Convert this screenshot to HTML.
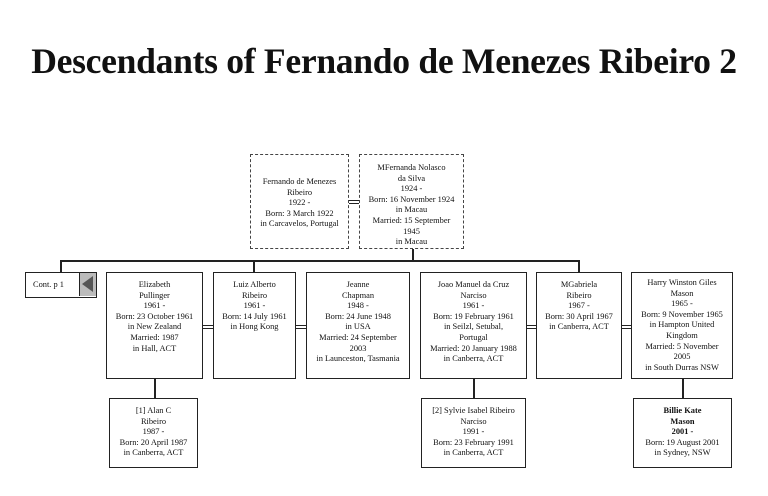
<!DOCTYPE html>
<html><head><style>
body{margin:0;width:768px;height:496px;background:#fff;position:relative;overflow:hidden;font-family:"Liberation Serif",serif;}
.t{position:absolute;left:0;width:768px;top:40px;text-align:center;font-weight:bold;font-size:35.6px;color:#111;letter-spacing:-0.3px}
.b{position:absolute;border:1.5px solid #222;box-sizing:border-box;font-size:8.4px;line-height:10.6px;text-align:center;padding-top:7px;color:#111;background:#fff;white-space:nowrap}
.d{border:1.3px dashed #444}
.l{position:absolute;background:#222}
.eq{position:absolute;height:4px;border-top:1px solid #222;border-bottom:1px solid #222;box-sizing:border-box}
</style></head><body>
<div class="t">Descendants of Fernando de Menezes Ribeiro 2</div>

<div class="b d" style="left:250px;top:154px;width:99px;height:95px;padding-top:22px">Fernando de Menezes<br>Ribeiro<br>1922 -<br>Born: 3 March 1922<br>in Carcavelos, Portugal</div>
<div class="b d" style="left:359px;top:154px;width:105px;height:95px;padding-top:8px">MFernanda Nolasco<br>da Silva<br>1924 -<br>Born: 16 November 1924<br>in Macau<br>Married: 15 September<br>1945<br>in Macau</div>
<div class="eq" style="left:349px;top:200px;width:10px"></div>

<div class="l" style="left:412px;top:249px;width:1.5px;height:12px"></div>
<div class="l" style="left:60px;top:260px;width:520px;height:1.5px"></div>
<div class="l" style="left:60px;top:260px;width:1.5px;height:12px"></div>
<div class="l" style="left:253px;top:260px;width:1.5px;height:12px"></div>
<div class="l" style="left:578px;top:260px;width:1.5px;height:12px"></div>

<div class="b" style="left:25px;top:272px;width:72px;height:26px;padding:7px 0 0 0;text-align:left;text-indent:7px">Cont. p 1
<div style="position:absolute;right:0;top:0;width:16px;height:23px;background:#bbb;border-left:1px solid #222"><div style="position:absolute;left:2px;top:3px;width:0;height:0;border-top:8px solid transparent;border-bottom:8px solid transparent;border-right:11px solid #555"></div></div></div>

<div class="b" style="left:106px;top:272px;width:97px;height:107px">Elizabeth<br>Pullinger<br>1961 -<br>Born: 23 October 1961<br>in New Zealand<br>Married: 1987<br>in Hall, ACT</div>
<div class="eq" style="left:203px;top:325px;width:10px"></div>
<div class="b" style="left:213px;top:272px;width:83px;height:107px">Luiz Alberto<br>Ribeiro<br>1961 -<br>Born: 14 July 1961<br>in Hong Kong</div>
<div class="eq" style="left:296px;top:325px;width:10px"></div>
<div class="b" style="left:306px;top:272px;width:104px;height:107px">Jeanne<br>Chapman<br>1948 -<br>Born: 24 June 1948<br>in USA<br>Married: 24 September<br>2003<br>in Launceston, Tasmania</div>

<div class="b" style="left:420px;top:272px;width:107px;height:107px">Joao Manuel da Cruz<br>Narciso<br>1961 -<br>Born: 19 February 1961<br>in Seilzl, Setubal,<br>Portugal<br>Married: 20 January 1988<br>in Canberra, ACT</div>
<div class="eq" style="left:527px;top:325px;width:9px"></div>
<div class="b" style="left:536px;top:272px;width:86px;height:107px">MGabriela<br>Ribeiro<br>1967 -<br>Born: 30 April 1967<br>in Canberra, ACT</div>
<div class="eq" style="left:622px;top:325px;width:9px"></div>
<div class="b" style="left:631px;top:272px;width:102px;height:107px;padding-top:5px">Harry Winston Giles<br>Mason<br>1965 -<br>Born: 9 November 1965<br>in Hampton United<br>Kingdom<br>Married: 5 November<br>2005<br>in South Durras NSW</div>

<div class="l" style="left:154px;top:379px;width:1.5px;height:19px"></div>
<div class="l" style="left:473px;top:379px;width:1.5px;height:19px"></div>
<div class="l" style="left:682px;top:379px;width:1.5px;height:19px"></div>

<div class="b" style="left:109px;top:398px;width:89px;height:70px">[1] Alan C<br>Ribeiro<br>1987 -<br>Born: 20 April 1987<br>in Canberra, ACT</div>
<div class="b" style="left:421px;top:398px;width:105px;height:70px">[2] Sylvie Isabel Ribeiro<br>Narciso<br>1991 -<br>Born: 23 February 1991<br>in Canberra, ACT</div>
<div class="b" style="left:633px;top:398px;width:99px;height:70px"><b>Billie Kate<br>Mason<br>2001 -</b><br>Born: 19 August 2001<br>in Sydney, NSW</div>
</body></html>
